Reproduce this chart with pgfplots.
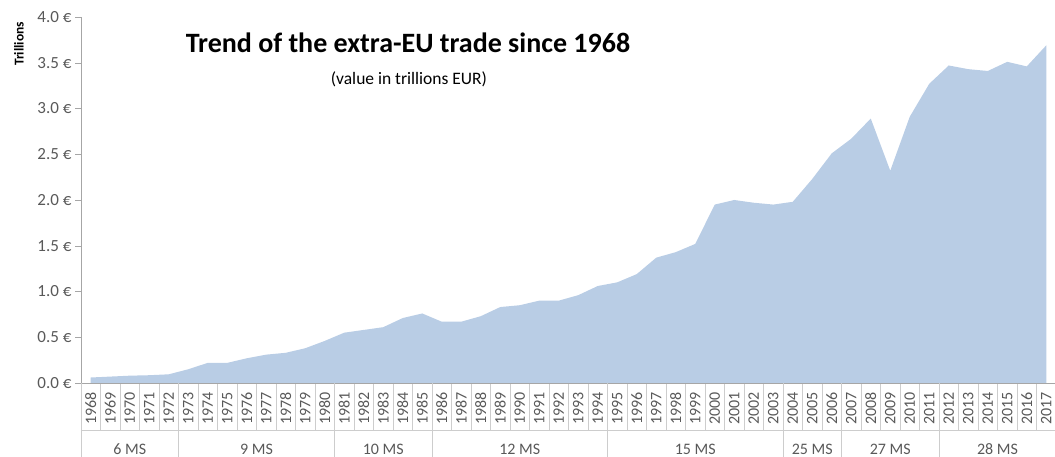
\documentclass[border=0pt]{standalone}
\usepackage{pgfplots}
\pgfplotsset{compat=1.18}
\usepackage{fontspec}
\setmainfont{Carlito}

\definecolor{areablue}{RGB}{185,205,229}
\definecolor{labelgrey}{RGB}{89,89,89}
\definecolor{axisgrey}{RGB}{166,166,166}
\definecolor{sepgrey}{RGB}{205,205,205}

% extra-EU trade, trillions EUR
\pgfplotstableread{
year value
1968 0.06
1969 0.07
1970 0.08
1971 0.085
1972 0.095
1973 0.15
1974 0.22
1975 0.22
1976 0.27
1977 0.31
1978 0.33
1979 0.38
1980 0.46
1981 0.55
1982 0.58
1983 0.61
1984 0.71
1985 0.76
1986 0.67
1987 0.67
1988 0.73
1989 0.83
1990 0.85
1991 0.90
1992 0.90
1993 0.96
1994 1.06
1995 1.10
1996 1.19
1997 1.37
1998 1.43
1999 1.52
2000 1.95
2001 2.00
2002 1.97
2003 1.95
2004 1.98
2005 2.23
2006 2.51
2007 2.67
2008 2.89
2009 2.32
2010 2.91
2011 3.27
2012 3.47
2013 3.43
2014 3.41
2015 3.51
2016 3.46
2017 3.69
}\tradedata

\begin{document}
\begin{tikzpicture}
\useasboundingbox (-81pt,-74pt) rectangle (974pt,383pt);
\begin{axis}[
    scale only axis,
    width=975pt,
    height=366pt,
    xmin=1967.5, xmax=2017.5,
    ymin=0, ymax=4,
    axis x line*=bottom,
    axis y line*=left,
    axis line style={axisgrey},
    tick align=outside,
    /pgf/number format/assume math mode=true,
    xtick={1968,...,2017},
    major x tick style={draw=none},
    minor xtick={1967.5,1968.5,...,2017.5},
    minor tick length=47pt,
    minor x tick style={sepgrey},
    xticklabel style={rotate=90, anchor=east, font=\fontsize{16}{18}\selectfont,
        text=labelgrey, /pgf/number format/1000 sep={}},
    ytick={0,0.5,...,4},
    major tick length=6pt,
    y tick style={axisgrey},
    yticklabel={\pgfmathprintnumber[fixed,fixed zerofill,precision=1]{\tick} €},
    yticklabel style={font=\fontsize{17}{19}\selectfont, text=labelgrey},
    clip=false,
]
\addplot[fill=areablue, draw=none] table[x=year, y=value] {\tradedata} \closedcycle;

% member-state group separators
\pgfplotsinvokeforeach{1967.5,1972.5,1980.5,1985.5,1994.5,2003.5,2006.5,2011.5}{
    \draw[sepgrey] (axis cs:#1,0) -- ++(0pt,-74pt);
}
\draw[sepgrey] (axis cs:1967.5,0) ++(0pt,-47pt) -- ++(975pt,0pt);

\begin{scope}[every node/.style={font=\fontsize{16}{18}\selectfont, text=labelgrey, anchor=base}]
\node at ([yshift=-72pt]axis cs:1970,0) {6 MS};
\node at ([yshift=-72pt]axis cs:1976.5,0) {9 MS};
\node at ([yshift=-72pt]axis cs:1983,0) {10 MS};
\node at ([yshift=-72pt]axis cs:1990,0) {12 MS};
\node at ([yshift=-72pt]axis cs:1999,0) {15 MS};
\node at ([yshift=-72pt]axis cs:2005,0) {25 MS};
\node at ([yshift=-72pt]axis cs:2009,0) {27 MS};
\node at ([yshift=-72pt]axis cs:2014.5,0) {28 MS};
\end{scope}
\end{axis}

\node[anchor=base, font=\fontsize{28}{32}\bfseries] at (327pt,330pt) {Trend of the extra-EU trade since 1968};
\node[anchor=base, font=\fontsize{17.5}{20}\selectfont] at (328pt,298pt) {(value in trillions EUR)};
\node[rotate=90, font=\fontsize{13.5}{15}\bfseries] at (-62pt,339pt) {Trillions};
\end{tikzpicture}
\end{document}
